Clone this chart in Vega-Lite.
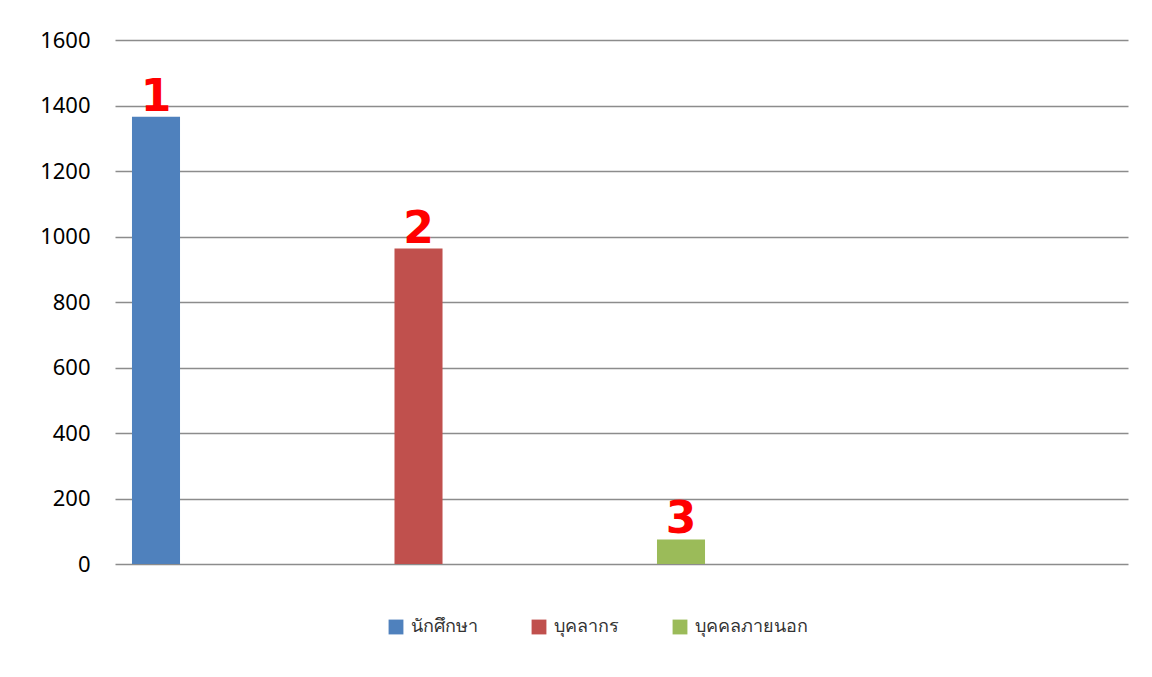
{
  "$schema": "https://vega.github.io/schema/vega-lite/v6.json",
  "width": 1013,
  "height": 524,
  "autosize": {"type": "none"},
  "padding": {"left": 115, "top": 40, "right": 24, "bottom": 113},
  "background": "white",
  "config": {"view": {"stroke": null}, "font": "Noto Sans"},
  "data": {
    "values": [
      {"group": "นักศึกษา", "count": 1366, "rank": "1"},
      {"group": "บุคลากร", "count": 963, "rank": "2"},
      {"group": "บุคคลภายนอก", "count": 75, "rank": "3"}
    ]
  },
  "encoding": {
    "x": {
      "field": "group",
      "type": "nominal",
      "sort": null,
      "scale": {"paddingInner": 0.817, "paddingOuter": 0.838, "align": 0.0386},
      "axis": null
    },
    "y": {
      "field": "count",
      "type": "quantitative",
      "scale": {"domain": [0, 1600], "nice": false},
      "axis": {
        "values": [0, 200, 400, 600, 800, 1000, 1200, 1400, 1600],
        "format": "d",
        "title": null,
        "domain": false,
        "ticks": false,
        "labelPadding": 25,
        "labelFontSize": 22,
        "labelColor": "#000000",
        "labelFont": "Noto Sans",
        "gridColor": "#8c8c8c",
        "gridWidth": 1.5,
        "gridOpacity": 1
      }
    }
  },
  "layer": [
    {
      "mark": {"type": "bar"},
      "encoding": {
        "color": {
          "field": "group",
          "type": "nominal",
          "sort": null,
          "scale": {
            "domain": ["นักศึกษา", "บุคลากร", "บุคคลภายนอก"],
            "range": ["#4F81BD", "#C0504D", "#9BBB59"]
          },
          "legend": {
            "title": null,
            "orient": "none",
            "legendX": 272,
            "legendY": 578,
            "direction": "horizontal",
            "symbolType": "square",
            "symbolSize": 220,
            "symbolStrokeWidth": 0,
            "symbolOpacity": 1,
            "labelFontSize": 18,
            "labelColor": "#333333",
            "columnPadding": 52,
            "labelOffset": 6
          }
        }
      }
    },
    {
      "mark": {
        "type": "text",
        "color": "#FF0000",
        "fontSize": 44,
        "fontWeight": "bold",
        "font": "DejaVu Sans",
        "baseline": "alphabetic",
        "dy": -6
      },
      "encoding": {"text": {"field": "rank"}}
    }
  ]
}
